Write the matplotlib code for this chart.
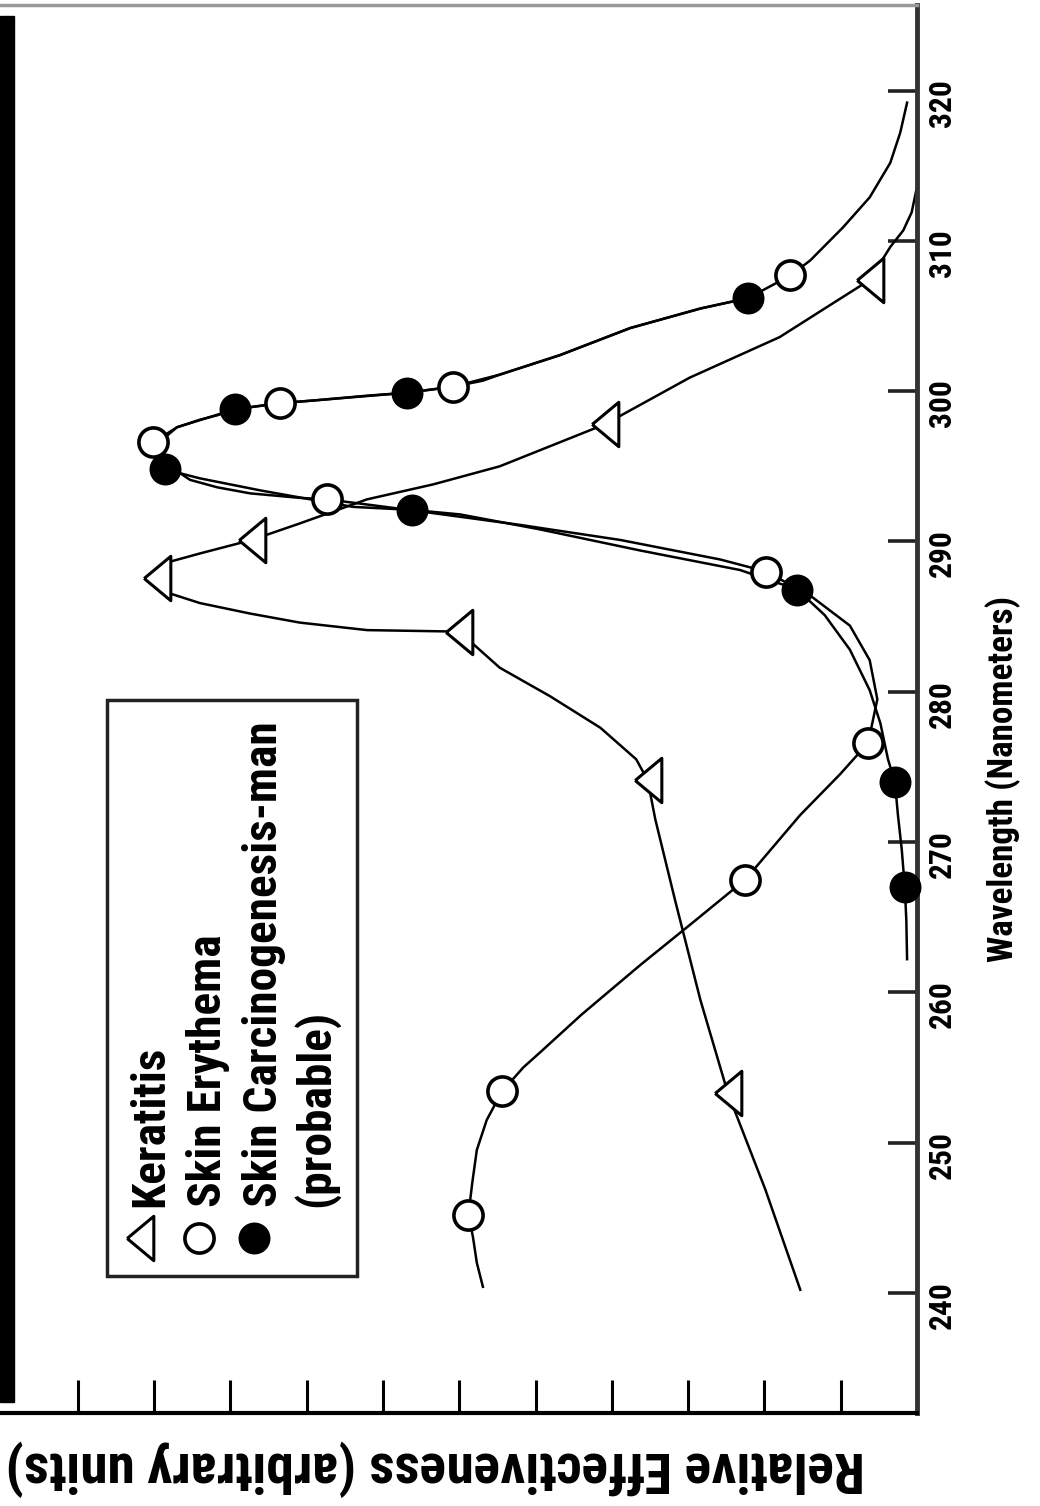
import matplotlib
matplotlib.use('Agg')
import matplotlib.pyplot as plt
from matplotlib import font_manager as fm
from matplotlib.patches import Rectangle
from matplotlib.lines import Line2D

# readings off the (rotated) figure: wavelength in nm, effectiveness in arbitrary units
kera_wl = [253.3, 274.1, 284.0, 287.6, 290.1, 297.8, 307.4]
kera_eff = [2.48, 3.53, 6.0, 9.96, 8.72, 4.09, 0.62]

ery_wl = [245.2, 253.4, 267.5, 276.6, 288.0, 292.8, 296.6, 299.2, 300.3, 307.7]
ery_eff = [5.88, 5.44, 2.25, 0.64, 1.98, 7.73, 10.01, 8.35, 6.08, 1.66]

carc_wl = [267.0, 274.0, 286.8, 292.1, 294.8, 298.8, 299.9, 306.2]
carc_eff = [0.16, 0.29, 1.57, 6.62, 9.86, 8.94, 6.68, 2.21]

# hand drawn fitted curves, traced point by point
kera_curve_wl = [240.2, 246.9, 253.3, 259.5, 266.1, 271.5, 274.1, 275.5, 277.6, 279.7,
                 281.6, 284.0, 284.1, 284.6, 285.2, 285.9, 286.6, 287.6, 288.6, 289.2,
                 290.1, 291.2, 292.8, 293.8, 295.0, 297.8, 300.9, 303.6, 305.6, 307.4,
                 309.6, 310.7, 311.9, 313.6]
kera_curve_eff = [1.53, 1.99, 2.48, 2.84, 3.17, 3.43, 3.53, 3.68, 4.15, 4.81,
                  5.47, 6.0, 7.21, 8.09, 8.74, 9.40, 9.83, 9.96, 9.83, 9.40,
                  8.72, 8.09, 7.21, 6.34, 5.47, 4.09, 2.98, 1.80, 1.18, 0.62,
                  0.35, 0.18, 0.07, 0.0]

ery_curve_wl = [240.4, 242.0, 243.7, 245.2, 247.3, 249.5, 251.5, 253.4, 255.0, 256.0,
                258.5, 261.8, 264.8, 267.5, 271.8, 274.5, 276.6, 279.5, 282.1, 284.4,
                286.4, 288.0, 288.8, 290.1, 291.1, 292.0, 292.8, 292.9, 293.2, 293.6,
                294.1, 295.0, 296.6, 297.6, 298.1, 298.4, 298.8, 299.2, 299.4, 299.7,
                299.9, 300.3, 300.7, 301.1, 302.4, 304.2, 305.5, 306.2, 307.7, 308.7,
                310.9, 312.9, 315.2, 317.2, 319.2]
ery_curve_eff = [5.69, 5.77, 5.82, 5.88, 5.83, 5.77, 5.64, 5.44, 5.16, 4.94,
                 4.40, 3.63, 2.90, 2.25, 1.53, 1.01, 0.64, 0.52, 0.62, 0.88,
                 1.40, 1.98, 2.58, 3.89, 5.20, 6.51, 7.73, 8.09, 8.74, 9.17,
                 9.53, 9.79, 10.01, 9.70, 9.40, 9.17, 8.94, 8.35, 7.86, 7.21,
                 6.68, 6.08, 5.69, 5.47, 4.68, 3.76, 2.84, 2.21, 1.66, 1.40,
                 0.97, 0.62, 0.35, 0.22, 0.13]

carc_curve_wl = [262.2, 264.8, 267.0, 269.5, 271.8, 274.0, 275.5, 277.9, 280.1, 282.8,
                 285.1, 286.8, 288.1, 289.4, 290.8, 291.8, 292.1, 292.3, 292.6, 293.4,
                 294.2, 294.8, 296.1, 297.6, 298.8, 299.2, 299.9, 300.3, 301.1, 302.4,
                 304.2, 305.5, 306.2]
carc_curve_eff = [0.13, 0.14, 0.16, 0.20, 0.25, 0.29, 0.38, 0.48, 0.62, 0.88,
                  1.21, 1.57, 2.32, 3.63, 4.94, 5.99, 6.62, 7.39, 7.73, 8.61,
                  9.40, 9.86, 10.05, 9.70, 8.94, 8.35, 6.68, 6.08, 5.47, 4.68,
                  3.76, 2.84, 2.21]

wl_ticks = [240, 250, 260, 270, 280, 290, 300, 310, 320]
eff_ticks = [1, 2, 3, 4, 5, 6, 7, 8, 9, 10, 11]

labels = ['Keratitis', 'Skin Erythema', 'Skin Carcinogenesis-man', '(probable)']


def pick_font():
    # the original uses a condensed bold sans; take the narrowest one installed
    entries = fm.fontManager.ttflist
    for name in ['Liberation Sans Narrow', 'Roboto Condensed', 'Noto Sans Condensed',
                 'Open Sans Condensed', 'DejaVu Sans Condensed']:
        if any(f.name == name for f in entries):
            return name, 'normal'
    for name in ['Noto Sans', 'Roboto', 'Open Sans', 'DejaVu Sans']:
        if any(f.name == name and f.stretch in ('condensed', 'semi-condensed', 'extra-condensed')
               for f in entries):
            return name, 'condensed'
    return 'Liberation Sans', 'normal'


fam, stretch = pick_font()
plt.rcParams['font.family'] = [fam, 'DejaVu Sans']
plt.rcParams['font.stretch'] = stretch
plt.rcParams['font.weight'] = 'bold'

W, H = 1040, 1506
fig = plt.figure(figsize=(W / 100, H / 100), dpi=100)
ax = fig.add_axes([0, 93 / H, 917 / W, 1408 / H])

# triangle pointing left (the chart is turned on its side)
tri = [(-0.6, 0), (0.6, 1), (0.6, -1), (-0.6, 0)]

line_kw = dict(color='black', lw=1.8, solid_joinstyle='round', zorder=2)
ax.plot(kera_curve_eff, kera_curve_wl, **line_kw)
ax.plot(ery_curve_eff, ery_curve_wl, **line_kw)
ax.plot(carc_curve_eff, carc_curve_wl, **line_kw)

ax.plot(kera_eff, kera_wl, ls='none', marker=tri, ms=32, mfc='white', mec='black',
        mew=2.2, zorder=3, clip_on=False)
ax.plot(ery_eff, ery_wl, ls='none', marker='o', ms=21, mfc='white', mec='black',
        mew=2.6, zorder=3, clip_on=False)
ax.plot(carc_eff, carc_wl, ls='none', marker='o', ms=21.5, mfc='black', mec='black',
        mew=1.5, zorder=4, clip_on=False)

ax.set_xlim(12.02, 0)
ax.set_ylim(232.0, 325.7)

ax.set_xticks(eff_ticks)
ax.set_xticklabels([])
ax.set_yticks(wl_ticks)
ax.yaxis.tick_right()
ax.tick_params(axis='x', direction='in', length=24, width=2.2, color='black', bottom=True, top=False)
ax.tick_params(axis='y', direction='in', length=21, width=2.6, color='#222222',
               labelrotation=90, labelsize=24, pad=7, left=False, right=True)

ax.spines['left'].set_visible(False)
ax.spines['top'].set(color='#999999', linewidth=2.5)
ax.spines['right'].set(color='#333333', linewidth=3.5)
ax.spines['bottom'].set(color='black', linewidth=3)

ax.set_xlabel('Relative Effectiveness (arbitrary units)', fontsize=30, fontweight='bold')
ax.xaxis.set_label_coords(435 / 917, -54 / 1408)
ax.xaxis.label.set(rotation=180, ha='center', va='center', rotation_mode='anchor')

ax.yaxis.set_label_position('right')
ax.set_ylabel('Wavelength (Nanometers)', fontsize=22, fontweight='bold')
ax.yaxis.set_label_coords(1003 / 917, (1413 - 779) / 1408)
ax.yaxis.label.set(rotation=90, ha='center', va='center', rotation_mode='anchor')

# black strip along the left edge
fig.add_artist(Rectangle((0, 104 / H), 14 / W, 1386 / H, transform=fig.transFigure,
                         color='black', zorder=5))

# legend, drawn by hand since its text runs upward
fig.add_artist(Rectangle((107 / W, 1 - 1276 / H), 250 / W, 576 / H, transform=fig.transFigure,
                         facecolor='white', edgecolor='#222222', lw=2.5, zorder=5))
leg_y = 1 - 1238 / H
fig.add_artist(Line2D([140 / W], [leg_y], transform=fig.transFigure, marker=tri, ms=32,
                      mfc='white', mec='black', mew=2.2, zorder=6))
fig.add_artist(Line2D([199 / W], [leg_y], transform=fig.transFigure, marker='o', ms=21,
                      mfc='white', mec='black', mew=2.6, zorder=6))
fig.add_artist(Line2D([254 / W], [leg_y], transform=fig.transFigure, marker='o', ms=21.5,
                      mfc='black', mec='black', mew=1.5, zorder=6))

leg_texts = []
for lab, bx in zip(labels, [163, 221, 277, 329]):
    leg_texts.append(fig.text(bx / W, 1 - 1207 / H, lab, rotation=90, rotation_mode='anchor',
                              ha='left', va='baseline', fontsize=30, fontweight='bold', zorder=6))

# size the texts so their run lengths match the original
fig.canvas.draw()
r = fig.canvas.get_renderer()

bb = leg_texts[2].get_window_extent(r)
leg_size = leg_texts[2].get_fontsize() * 486 / bb.height
for t in leg_texts:
    t.set_fontsize(leg_size)

bb = ax.xaxis.label.get_window_extent(r)
ax.xaxis.label.set_fontsize(ax.xaxis.label.get_fontsize() * 860 / bb.width)

bb = ax.yaxis.label.get_window_extent(r)
ax.yaxis.label.set_fontsize(ax.yaxis.label.get_fontsize() * 366 / bb.height)

tl = ax.get_yticklabels()[-1]
bb = tl.get_window_extent(r)
ax.tick_params(axis='y', labelsize=tl.get_fontsize() * 48 / bb.height)

fig.savefig('out.png', dpi=100)
